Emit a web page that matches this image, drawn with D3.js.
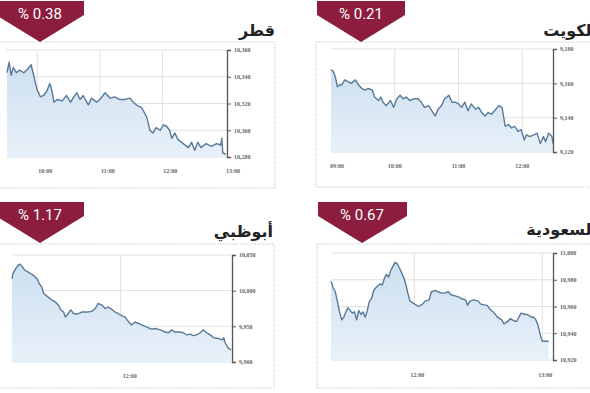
<!DOCTYPE html>
<html><head><meta charset="utf-8">
<script src="https://cdn.jsdelivr.net/npm/d3@7/dist/d3.min.js"></script>
<style>body{margin:0;background:#fff}svg{display:block}</style>
</head><body><svg id="c" width="590" height="393"></svg>
<script>
// ---- DATA ----
const titles = ["قطر", "الكويت", "أبوظبي", "السعودية"];
const changes = ["% 0.38", "% 0.21", "% 1.17", "% 0.67"];

const qatarTicks = [10280, 10300, 10320, 10340, 10360];
const kuwaitTicks = [9120, 9140, 9160, 9180];
const abuDhabiTicks = [9900, 9950, 10000, 10050];
const saudiTicks = [10920, 10940, 10960, 10980, 11000];

const qatarTimes = ["10:00", "11:00", "12:00", "13:00"];
const kuwaitTimes = ["09:00", "10:00", "11:00", "12:00"];
const abuDhabiTimes = ["12:00"];
const saudiTimes = ["12:00", "13:00"];

const qatarData = [
 ["09:31",10343],["09:33",10351],["09:35",10341],["09:37",10347],["09:40",10343],["09:43",10345],
 ["09:47",10343],["09:50",10345],["09:54",10349],["09:56",10343],["09:58",10336],["10:00",10330],
 ["10:03",10325],["10:06",10326],["10:09",10329],["10:12",10335],["10:14",10330],["10:16",10321],
 ["10:19",10323],["10:24",10322],["10:28",10326],["10:32",10321],["10:35",10325],["10:38",10328],
 ["10:41",10323],["10:44",10326],["10:49",10319],["10:52",10324],["10:57",10321],["11:00",10323],
 ["11:05",10328],["11:10",10324],["11:14",10325],["11:19",10323],["11:24",10323],["11:29",10324],
 ["11:32",10321],["11:35",10319],["11:40",10317],["11:45",10310],["11:48",10300],["11:51",10298],
 ["11:54",10302],["11:58",10300],["12:01",10304],["12:04",10303],["12:07",10300],["12:09",10294],
 ["12:12",10298],["12:15",10293],["12:20",10290],["12:25",10287],["12:28",10291],["12:31",10285],
 ["12:34",10291],["12:37",10287],["12:42",10290],["12:47",10288],["12:52",10290],["12:56",10289],
 ["12:57",10294],["12:58",10283],["13:01",10282]
];

const kuwaitData = [
 ["09:00",9168],["09:02",9167],["09:04",9164],["09:06",9158],["09:08",9159],["09:10",9159],
 ["09:13",9162],["09:16",9161],["09:19",9160],["09:23",9162],["09:26",9159],["09:29",9157],
 ["09:32",9156],["09:35",9157],["09:39",9156],["09:41",9152],["09:45",9150],["09:47",9152],
 ["09:49",9149],["09:52",9147],["09:56",9150],["09:59",9146],["10:02",9151],["10:05",9153],
 ["10:08",9151],["10:11",9152],["10:14",9150],["10:18",9151],["10:22",9151],["10:25",9149],
 ["10:28",9146],["10:32",9147],["10:35",9144],["10:38",9141],["10:41",9145],["10:44",9147],
 ["10:47",9151],["10:51",9153],["10:54",9149],["10:57",9149],["11:00",9148],["11:03",9146],
 ["11:06",9149],["11:09",9144],["11:12",9148],["11:16",9145],["11:19",9146],["11:22",9143],
 ["11:25",9141],["11:28",9143],["11:31",9142],["11:34",9144],["11:38",9147],["11:41",9146],
 ["11:44",9135],["11:47",9136],["11:50",9134],["11:53",9135],["11:56",9132],["11:59",9133],
 ["12:02",9127],["12:04",9130],["12:07",9129],["12:11",9130],["12:14",9131],["12:17",9125],
 ["12:20",9129],["12:22",9126],["12:25",9131],["12:28",9129],["12:29",9125]
];

const abuDhabiData = [
 ["10:00",10017],["10:01",10024],["10:04",10031],["10:07",10036],["10:09",10037],["10:11",10034],
 ["10:14",10029],["10:18",10026],["10:22",10023],["10:25",10020],["10:28",10016],["10:30",10010],
 ["10:33",10005],["10:35",9996],["10:40",9991],["10:44",9987],["10:48",9984],["10:51",9980],
 ["10:54",9973],["10:57",9970],["10:59",9963],["11:02",9968],["11:05",9973],["11:08",9968],
 ["11:12",9967],["11:17",9970],["11:23",9970],["11:28",9971],["11:32",9975],["11:35",9982],
 ["11:39",9980],["11:43",9975],["11:46",9977],["11:50",9974],["11:54",9970],["11:57",9968],
 ["12:01",9965],["12:05",9963],["12:09",9956],["12:12",9952],["12:16",9956],["12:20",9954],
 ["12:23",9952],["12:29",9949],["12:34",9946],["12:38",9947],["12:44",9945],["12:49",9942],
 ["12:53",9941],["12:56",9945],["13:00",9942],["13:06",9942],["13:09",9941],["13:13",9938],
 ["13:17",9939],["13:20",9937],["13:24",9938],["13:28",9941],["13:31",9945],["13:35",9941],
 ["13:39",9938],["13:43",9934],["13:48",9933],["13:52",9931],["13:54",9934],["13:55",9928],
 ["13:59",9919],["14:02",9917]
];

const saudiData = [
 ["11:21",10979],["11:22",10974],["11:23",10971],["11:24",10964],["11:25",10956],["11:26",10950],
 ["11:27",10952],["11:28",10956],["11:29",10959],["11:31",10955],["11:32",10956],["11:33",10950],
 ["11:34",10957],["11:35",10954],["11:36",10956],["11:37",10952],["11:38",10957],["11:39",10964],
 ["11:40",10966],["11:41",10972],["11:42",10974],["11:44",10977],["11:45",10976],["11:46",10981],
 ["11:47",10984],["11:48",10982],["11:49",10987],["11:50",10990],["11:51",10993],["11:52",10992],
 ["11:53",10989],["11:55",10982],["11:56",10977],["11:57",10970],["11:58",10964],["12:00",10962],
 ["12:01",10961],["12:02",10960],["12:04",10962],["12:05",10964],["12:07",10965],["12:08",10971],
 ["12:10",10972],["12:11",10971],["12:13",10970],["12:14",10970],["12:16",10971],["12:17",10969],
 ["12:19",10968],["12:21",10967],["12:22",10966],["12:24",10965],["12:25",10961],["12:26",10964],
 ["12:28",10965],["12:30",10964],["12:31",10962],["12:33",10961],["12:34",10961],["12:36",10957],
 ["12:37",10956],["12:39",10952],["12:41",10950],["12:42",10947],["12:44",10949],["12:45",10951],
 ["12:47",10949],["12:48",10949],["12:50",10955],["12:52",10954],["12:53",10954],["12:55",10952],
 ["12:56",10952],["12:57",10950],["12:58",10946],["12:59",10939],["13:00",10934],["13:03",10934]
];

// ---- LAYOUT ----
const panels = [
 {title: titles[0], change: changes[0], data: qatarData, ticks: qatarTicks, times: qatarTimes,
  xd: ["09:30","13:02"], box: [-40,275,42,188], plot: [6,227,50,157], labelY: 173, labelDx: 8,
  badge: [-4,84,40,1], titleX: 275, titleY: 36},
 {title: titles[1], change: changes[1], data: kuwaitData, ticks: kuwaitTicks, times: kuwaitTimes,
  xd: ["09:00","12:29"], box: [316,640,42,187], plot: [331,553,49,152], labelY: 168, labelDx: 0,
  badge: [317,405,361,1], titleX: 597, titleY: 36},
 {title: titles[2], change: changes[2], data: abuDhabiData, ticks: abuDhabiTicks, times: abuDhabiTimes,
  xd: ["10:00","14:03"], box: [-40,274,244,388], plot: [12,232,255,362], labelY: 378, labelDx: 9,
  badge: [-4,84,40,202], titleX: 273, titleY: 237},
 {title: titles[3], change: changes[3], data: saudiData, ticks: saudiTicks, times: saudiTimes,
  xd: ["11:21","13:05"], box: [317,640,244,388], plot: [331,553,253,360], labelY: 377, labelDx: 3,
  badge: [318,407,362,202], titleX: 597, titleY: 235}
];

const svg = d3.select("#c");
const parse = d3.timeParse("%H:%M");
const fmt = d3.format(",");

const defs = svg.append("defs");
const grad = defs.append("linearGradient").attr("id","areaGrad")
  .attr("x1",0).attr("y1",0).attr("x2",0).attr("y2",1);
grad.append("stop").attr("offset","0%").attr("stop-color","#cddff0");
grad.append("stop").attr("offset","100%").attr("stop-color","#e8f1f9");

panels.forEach(p => {
  const g = svg.append("g");
  const [bx0,bx1,by0,by1] = p.box;
  g.append("rect").attr("x",bx0).attr("y",by0).attr("width",bx1-bx0).attr("height",by1-by0)
    .attr("fill","none").attr("stroke","#b8b8b8").attr("stroke-width",1).attr("stroke-dasharray","1,1.5");

  const [px0,px1,py0,py1] = p.plot;
  const x = d3.scaleTime().domain(p.xd.map(parse)).range([px0,px1]);
  const y = d3.scaleLinear().domain(d3.extent(p.ticks)).range([py1,py0]);

  // gridlines
  g.append("g").selectAll("line").data(p.ticks).join("line")
    .attr("x1",px0).attr("x2",px1).attr("y1",d=>y(d)).attr("y2",d=>y(d))
    .attr("stroke","#e0e0e0").attr("stroke-width",1);
  g.append("g").selectAll("line").data(p.times.filter(t => x(parse(t)) > px0+3 && x(parse(t)) < px1-4)).join("line")
    .attr("x1",d=>x(parse(d))).attr("x2",d=>x(parse(d))).attr("y1",py0).attr("y2",py1)
    .attr("stroke","#e0e0e0").attr("stroke-width",1);

  // area + line
  const area = d3.area().x(d=>x(parse(d[0]))).y0(py1).y1(d=>y(d[1]));
  const line = d3.line().x(d=>x(parse(d[0]))).y(d=>y(d[1]));
  g.append("path").datum(p.data).attr("d",area).attr("fill","url(#areaGrad)");
  g.append("path").datum(p.data).attr("d",line).attr("fill","none")
    .attr("stroke","#587a98").attr("stroke-width",1.4).attr("stroke-linejoin","round");

  // y axis on right
  const ax = d3.axisRight(y).tickValues(p.ticks).tickFormat(fmt).tickSize(4).tickPadding(3);
  const axg = g.append("g").attr("transform",`translate(${px1},0)`).call(ax);
  axg.select(".domain").attr("stroke","#555").attr("stroke-width",1.3);
  axg.selectAll(".tick line").attr("stroke","#555");
  axg.selectAll(".tick text").attr("fill","#666").style("font-family","Liberation Serif")
    .style("font-size","6px").style("font-weight","bold");

  // time labels
  g.append("g").selectAll("text").data(p.times).join("text")
    .attr("x",d=>Math.max(x(parse(d))+p.labelDx, px0+6)).attr("y",p.labelY)
    .attr("text-anchor","middle").attr("fill","#666")
    .style("font-family","Liberation Serif").style("font-size","6px").style("font-weight","bold")
    .text(d=>d);

  // badge
  const [b0,b1,bc,bt] = p.badge;
  g.append("path").attr("d",`M${b0},${bt}L${b1},${bt}L${b1},${bt+14}L${bc},${bt+41}L${b0},${bt+14}Z`)
    .attr("fill","#8c1d3f");
  g.append("text").attr("x",bc).attr("y",bt+18).attr("text-anchor","middle").attr("fill","#fff")
    .style("font-family","Roboto").style("font-size","15px").text(p.change);

  // title
  g.append("text").attr("x",p.titleX).attr("y",p.titleY).attr("text-anchor","end")
    .attr("fill","#222").style("font-family","DejaVu Sans").style("font-weight","bold")
    .style("font-size","16px").text(p.title);
});
</script></body></html>
